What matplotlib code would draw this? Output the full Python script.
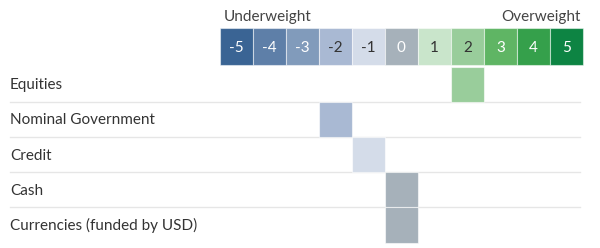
import matplotlib
matplotlib.use("Agg")
import matplotlib.pyplot as plt

scale_values = [-5, -4, -3, -2, -1, 0, 1, 2, 3, 4, 5]
scale_colors = ["#3a6494", "#5e7fa8", "#819bbb", "#a9b9d3", "#d4dce9", "#a6b1ba",
                "#c9e5cb", "#99cd9b", "#5fb564", "#35a04b", "#0d8443"]
scale_text_colors = ["white", "white", "white", "#333333", "#333333", "white",
                     "#333333", "#333333", "white", "white", "white"]
categories = ["Equities", "Nominal Government", "Credit", "Cash", "Currencies (funded by USD)"]
scores = [2, -2, -1, 0, 0]

plt.rcParams['font.family'] = ['Lato', 'DejaVu Sans']

W, H = 600, 248
fig = plt.figure(figsize=(6, 2.48), dpi=100)
ax = fig.add_axes([0, 0, 1, 1])
cell = 33.05
zero_px = 401.3
ax.set_xlim(-zero_px / cell, (W - zero_px) / cell)
ax.set_ylim(H, 0)
ax.axis("off")

def px(x):
    return (x - zero_px) / cell

# scale header
scale_top, scale_h = 28, 37
color_of = dict(zip(scale_values, scale_colors))
ax.bar(scale_values, scale_h, width=1, bottom=scale_top, color=scale_colors,
       edgecolor=(1, 1, 1, 0.5), linewidth=0.8)
for v, tc in zip(scale_values, scale_text_colors):
    ax.text(v, scale_top + scale_h / 2 + 1, str(v), ha="center", va="center",
            color=tc, fontsize=11)
ax.text(px(224), 17, "Underweight", ha="left", va="center", color="#444444", fontsize=11)
ax.text(px(581), 17, "Overweight", ha="right", va="center", color="#444444", fontsize=11)

# rows
row_top, row_h = 66.5, 35.2
x_left = px(10)
x_right = px(580)
for i, (cat, s) in enumerate(zip(categories, scores)):
    top = row_top + i * row_h
    ax.bar(s, row_h, width=1, bottom=top, color=color_of[s],
           edgecolor=(1, 1, 1, 0.6), linewidth=0.8, zorder=3)
    ax.text(x_left, top + row_h / 2 + 1, cat, ha="left", va="center",
            color="#333333", fontsize=11)
    if i > 0:
        ax.plot([x_left, x_right], [top, top], color="#e6e6e6", lw=1, zorder=1)

fig.savefig("out.png", dpi=100)
